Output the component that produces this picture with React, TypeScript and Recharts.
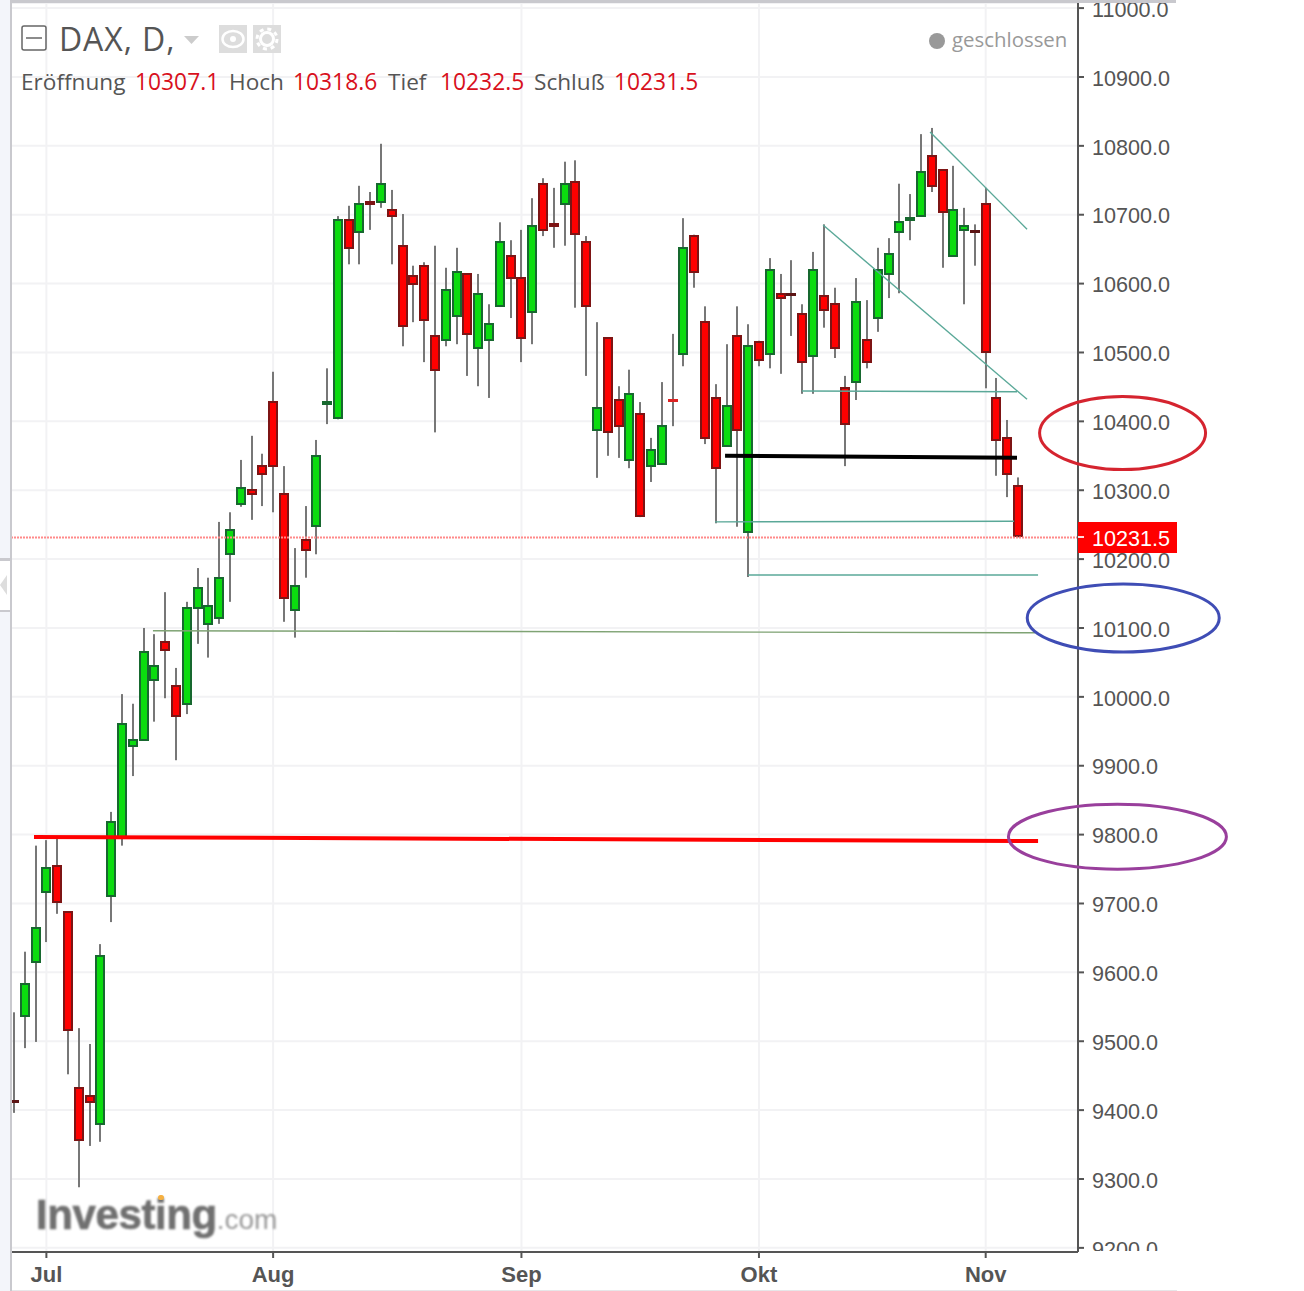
import { Bar, CartesianGrid, ComposedChart, ReferenceDot, ReferenceLine, XAxis, YAxis } from "recharts";

const opens = [
  9415, 9535, 9614, 9715, 9756, 9689, 9434, 9422, 9378, 9709,
  9794, 9927, 9936, 10023, 10081, 10017, 9988, 10128, 10104, 10113,
  10206, 10279, 10302, 10337, 10430, 10296, 10125, 10229, 10247, 10424,
  10403, 10694, 10673, 10720, 10717, 10708, 10656, 10612, 10627, 10525,
  10517, 10552, 10615, 10505, 10517, 10566, 10642, 10610, 10557, 10746,
  10688, 10714, 10749, 10662, 10386, 10522, 10432, 10342, 10412, 10334,
  10337, 10432, 10496, 10671, 10546, 10435, 10363, 10525, 10238, 10517,
  10496, 10586, 10586, 10557, 10493, 10583, 10572, 10450, 10456, 10520,
  10549, 10612, 10673, 10691, 10697, 10787, 10766, 10639, 10676, 10678,
  10717, 10435, 10377, 10307.1,
];
const highs = [
  9542, 9630, 9784, 9792, 9798, 9689, 9519, 9496, 9641, 9833,
  10004, 9990, 10100, 10091, 10152, 10042, 10138, 10187, 10173, 10254,
  10268, 10344, 10379, 10353, 10472, 10335, 10216, 10277, 10373, 10477,
  10698, 10713, 10742, 10733, 10803, 10736, 10701, 10626, 10631, 10655,
  10623, 10652, 10615, 10614, 10570, 10689, 10663, 10678, 10724, 10753,
  10739, 10777, 10779, 10669, 10544, 10522, 10451, 10475, 10428, 10376,
  10457, 10527, 10695, 10671, 10567, 10454, 10512, 10567, 10541, 10517,
  10637, 10614, 10634, 10570, 10646, 10686, 10594, 10466, 10608, 10576,
  10652, 10666, 10745, 10730, 10817, 10826, 10766, 10771, 10710, 10686,
  10739, 10463, 10402, 10318.6,
];
const lows = [
  9396, 9490, 9499, 9644, 9685, 9452, 9288, 9348, 9354, 9673,
  9784, 9885, 9936, 9964, 9998, 9908, 9975, 10077, 10057, 10106,
  10138, 10276, 10257, 10277, 10268, 10109, 10086, 10173, 10207, 10396,
  10403, 10628, 10628, 10678, 10710, 10628, 10509, 10544, 10486, 10384,
  10509, 10512, 10466, 10451, 10434, 10566, 10550, 10486, 10512, 10669,
  10652, 10655, 10565, 10466, 10318, 10350, 10347, 10332, 10261, 10312,
  10337, 10393, 10480, 10594, 10367, 10252, 10363, 10247, 10174, 10480,
  10477, 10469, 10524, 10440, 10440, 10536, 10492, 10335, 10431, 10477,
  10530, 10579, 10586, 10663, 10697, 10733, 10623, 10639, 10570, 10626,
  10448, 10321, 10290, 10231.5,
];
const closes = [
  9411, 9585, 9666, 9753, 9701, 9515, 9355, 9410, 9625, 9820,
  9962, 9939, 10067, 10046, 10067, 9971, 10131, 10160, 10133, 10174,
  10244, 10305, 10293, 10322, 10334, 10142, 10162, 10212, 10351, 10430,
  10694, 10650, 10717, 10714, 10746, 10697, 10537, 10598, 10546, 10473,
  10592, 10618, 10525, 10586, 10543, 10662, 10607, 10520, 10685, 10676,
  10682, 10746, 10671, 10566, 10421, 10383, 10392, 10441, 10261, 10360,
  10395, 10431, 10653, 10615, 10374, 10331, 10424, 10386, 10511, 10488,
  10621, 10578, 10581, 10485, 10621, 10560, 10505, 10395, 10575, 10485,
  10621, 10644, 10691, 10697, 10763, 10740, 10703, 10708, 10685, 10673,
  10499, 10371, 10322, 10231.5,
];

const priceTicks = [
  9200, 9300, 9400, 9500, 9600, 9700, 9800, 9900, 10000, 10100,
  10200, 10300, 10400, 10500, 10600, 10700, 10800, 10900, 11000,
];
const monthTicks = [3, 24, 47, 69, 90];
const monthLabels = ["Jul", "Aug", "Sep", "Okt", "Nov"];

const lastPrice = 10231.5;
const brightDoji = 61;
const teal = "#5aa898";

const data = opens.map((open, i) => ({ i, open, high: highs[i], low: lows[i], close: closes[i] }));

function Candle(props: any) {
  const { x, y, width, height, payload } = props;
  const { i, open, high, low, close } = payload;
  const pxPerUnit = height / (high - low || 1);
  const cx = Math.round(x + width / 2 + 0.4);
  const top = Math.round(y + (high - Math.max(open, close)) * pxPerUnit);
  const bottom = Math.round(y + (high - Math.min(open, close)) * pxPerUnit);
  const up = close >= open;
  const stroke = up ? "#17682f" : "#7d1414";
  const fill = up ? "#0bdc0f" : "#ff0000";
  const thin = bottom - top <= 4 && !up && open - close < 6;
  return (
    <g>
      <rect x={cx - 1} y={y} width={2} height={height} fill="#777" />
      {thin ? (
        <rect x={cx - 5} y={top} width={10} height={3} fill={i === brightDoji ? "#d22" : "#5c1414"} />
      ) : (
        <rect x={cx - 4} y={top + 1} width={8} height={Math.max(bottom - top - 2, 1)} fill={fill} stroke={stroke} strokeWidth={2} />
      )}
    </g>
  );
}

function Ring(props: any) {
  const { cx, cy, rx, ry, color } = props;
  return <ellipse cx={cx} cy={cy} rx={rx} ry={ry} fill="none" stroke={color} strokeWidth={3} />;
}

const label = (left: number, top: number, size: number, color: string): React.CSSProperties => ({
  position: "absolute",
  left,
  top,
  fontSize: size,
  color,
  fontFamily: "'Open Sans'",
  lineHeight: 1,
  whiteSpace: "pre",
});

export default function App() {
  return (
    <div style={{ position: "absolute", left: 0, top: 0, width: 1304, height: 1291, background: "#fff", overflow: "hidden" }}>
      <ComposedChart
        width={1304}
        height={1291}
        data={data}
        margin={{ top: 3, left: 11, right: 128, bottom: 0 }}
        style={{ position: "absolute", left: 0, top: 0 }}
      >
        <CartesianGrid stroke="#f2f2f4" strokeWidth={2} />
        <XAxis
          dataKey="i"
          type="number"
          domain={[-0.278, 98.55]}
          allowDataOverflow
          ticks={monthTicks}
          interval={0}
          height={39}
          tickSize={6}
          tickMargin={8}
          tickFormatter={(v: number) => monthLabels[monthTicks.indexOf(v)]}
          tick={{ fontSize: 22, fontWeight: 700, fill: "#555", fontFamily: "'Liberation Sans'" }}
          axisLine={{ stroke: "#555", strokeWidth: 2 }}
          tickLine={{ stroke: "#555", strokeWidth: 2 }}
        />
        <YAxis
          orientation="right"
          type="number"
          domain={[9194, 11007.4]}
          allowDataOverflow
          ticks={priceTicks}
          interval={0}
          width={98}
          tickSize={6}
          tickMargin={8}
          tickFormatter={(v: number) => v.toFixed(1)}
          tick={{ fontSize: 21.6, fill: "#555", fontFamily: "'Liberation Sans'", textAnchor: "start", dy: 1 }}
          axisLine={{ stroke: "#555", strokeWidth: 2 }}
          tickLine={{ stroke: "#555", strokeWidth: 2 }}
        />
        <ReferenceLine y={lastPrice} stroke="#ff8a8a" strokeWidth={2} strokeDasharray="2 1" />
        <ReferenceLine segment={[{ x: 84.85, y: 10820 }, { x: 93.83, y: 10679 }]} stroke={teal} strokeWidth={1.4} />
        <ReferenceLine segment={[{ x: 74.94, y: 10685 }, { x: 93.83, y: 10432 }]} stroke={teal} strokeWidth={1.4} />
        <ReferenceLine segment={[{ x: 72.99, y: 10444 }, { x: 92.9, y: 10443 }]} stroke={teal} strokeWidth={1.4} />
        <ReferenceLine segment={[{ x: 64.93, y: 10254 }, { x: 92.63, y: 10255 }]} stroke={teal} strokeWidth={1.4} />
        <ReferenceLine segment={[{ x: 67.99, y: 10177 }, { x: 94.85, y: 10177 }]} stroke={teal} strokeWidth={1.4} />
        <ReferenceLine segment={[{ x: 12.87, y: 10096 }, { x: 94.57, y: 10093 }]} stroke="#7fa374" strokeWidth={1.4} />
        <ReferenceLine segment={[{ x: 65.86, y: 10350 }, { x: 92.9, y: 10347 }]} stroke="#000" strokeWidth={4} />
        <ReferenceLine segment={[{ x: 1.85, y: 9796.6 }, { x: 94.85, y: 9790.7 }]} stroke="#f00" strokeWidth={4} />
        <Bar dataKey={(d: any) => [d.low, d.high]} barSize={10} shape={<Candle />} isAnimationActive={false} />
        <ReferenceDot x={102.68} y={10383} ifOverflow="visible" shape={(p: any) => <Ring {...p} rx={83} ry={36.5} color="#d5242f" />} />
        <ReferenceDot x={102.74} y={10114.5} ifOverflow="visible" shape={(p: any) => <Ring {...p} rx={96} ry={34} color="#3f4db5" />} />
        <ReferenceDot x={102.2} y={9797} ifOverflow="visible" shape={(p: any) => <Ring {...p} rx={109} ry={32.5} color="#993f9c" />} />
      </ComposedChart>

      {/* frame around the plot */}
      <div style={{ position: "absolute", left: 0, top: 0, width: 10, height: 1291, background: "#f3f5fa" }} />
      <div style={{ position: "absolute", left: 0, top: 558, width: 10, height: 54, background: "#fff", borderTop: "3px solid #c9c9ce", borderBottom: "2px solid #c9c9ce", boxSizing: "border-box" }} />
      <div style={{ position: "absolute", left: 10, top: 0, width: 2, height: 1291, background: "#c9c9ce" }} />
      <div style={{ position: "absolute", left: 10, top: 0, width: 1166, height: 3, background: "#c9c9ce" }} />
      <div style={{ position: "absolute", left: 1086, top: 1251, width: 218, height: 40, background: "#fff" }} />
      <div style={{ position: "absolute", left: 12, top: 1290, width: 1165, height: 1, background: "#e6e6e8" }} />

      {/* last price tag */}
      <div style={{ position: "absolute", left: 1078, top: 522, width: 99, height: 31, background: "#f00" }} />
      <div style={{ position: "absolute", left: 1078, top: 536, width: 6, height: 2, background: "#fdd" }} />
      <div style={{ ...label(1092, 528, 21.6, "#fff"), fontFamily: "'Liberation Sans'" }}>10231.5</div>

      {/* header */}
      <div style={{ ...label(59, 23, 32, "#555"), letterSpacing: 0.9 }}>DAX, D,</div>
      <div style={label(21, 71, 22.6, "#555")}>Eröffnung</div>
      <div style={label(135, 71, 22.8, "#d8101c")}>10307.1</div>
      <div style={label(229, 71, 22.6, "#555")}>Hoch</div>
      <div style={label(293, 71, 22.8, "#d8101c")}>10318.6</div>
      <div style={label(388, 71, 22.6, "#555")}>Tief</div>
      <div style={label(440, 71, 22.8, "#d8101c")}>10232.5</div>
      <div style={label(534, 71, 22.6, "#555")}>Schluß</div>
      <div style={label(614, 71, 22.8, "#d8101c")}>10231.5</div>
      <div style={label(952, 29, 20.4, "#999")}>geschlossen</div>

      <svg width={1304} height={120} style={{ position: "absolute", left: 0, top: 0 }}>
        <rect x={22} y={26} width={24} height={24} rx={2} fill="none" stroke="#666" strokeWidth={1.5} />
        <line x1={26} x2={42} y1={38} y2={38} stroke="#666" strokeWidth={1.5} />
        <polygon points="184,36 199,36 191.5,44" fill="#ccc" />
        <rect x={219} y={25} width={28} height={28} fill="#ddd" />
        <ellipse cx={233} cy={39} rx={10.5} ry={8} fill="none" stroke="#fff" strokeWidth={2.5} />
        <circle cx={233} cy={39} r={3} fill="#fff" />
        <rect x={253} y={25} width={28} height={28} fill="#ddd" />
        <circle cx={267} cy={39} r={6.5} fill="none" stroke="#fff" strokeWidth={3} />
        <circle cx={267} cy={39} r={10} fill="none" stroke="#fff" strokeWidth={3} strokeDasharray="4 3.85" />
        <circle cx={937} cy={41} r={8} fill="#999" />
      </svg>
      <svg width={10} height={30} style={{ position: "absolute", left: 0, top: 570 }}>
        <polygon points="7,5 7,25 0,15" fill="#ddd" />
      </svg>

      {/* logo */}
      <div style={{ position: "absolute", left: 36, top: 1191, filter: "blur(0.8px)", whiteSpace: "pre", fontFamily: "'Liberation Sans'", lineHeight: "48px" }}>
        <span style={{ fontSize: 42, fontWeight: 700, color: "#707070", letterSpacing: -0.4, WebkitTextStroke: "0.6px #707070" }}>Investing</span>
        <span style={{ fontSize: 28, color: "#999" }}>.com</span>
      </div>
      <div style={{ position: "absolute", left: 158, top: 1195, width: 6, height: 5, borderRadius: 3, background: "#f5b042" }} />
    </div>
  );
}
